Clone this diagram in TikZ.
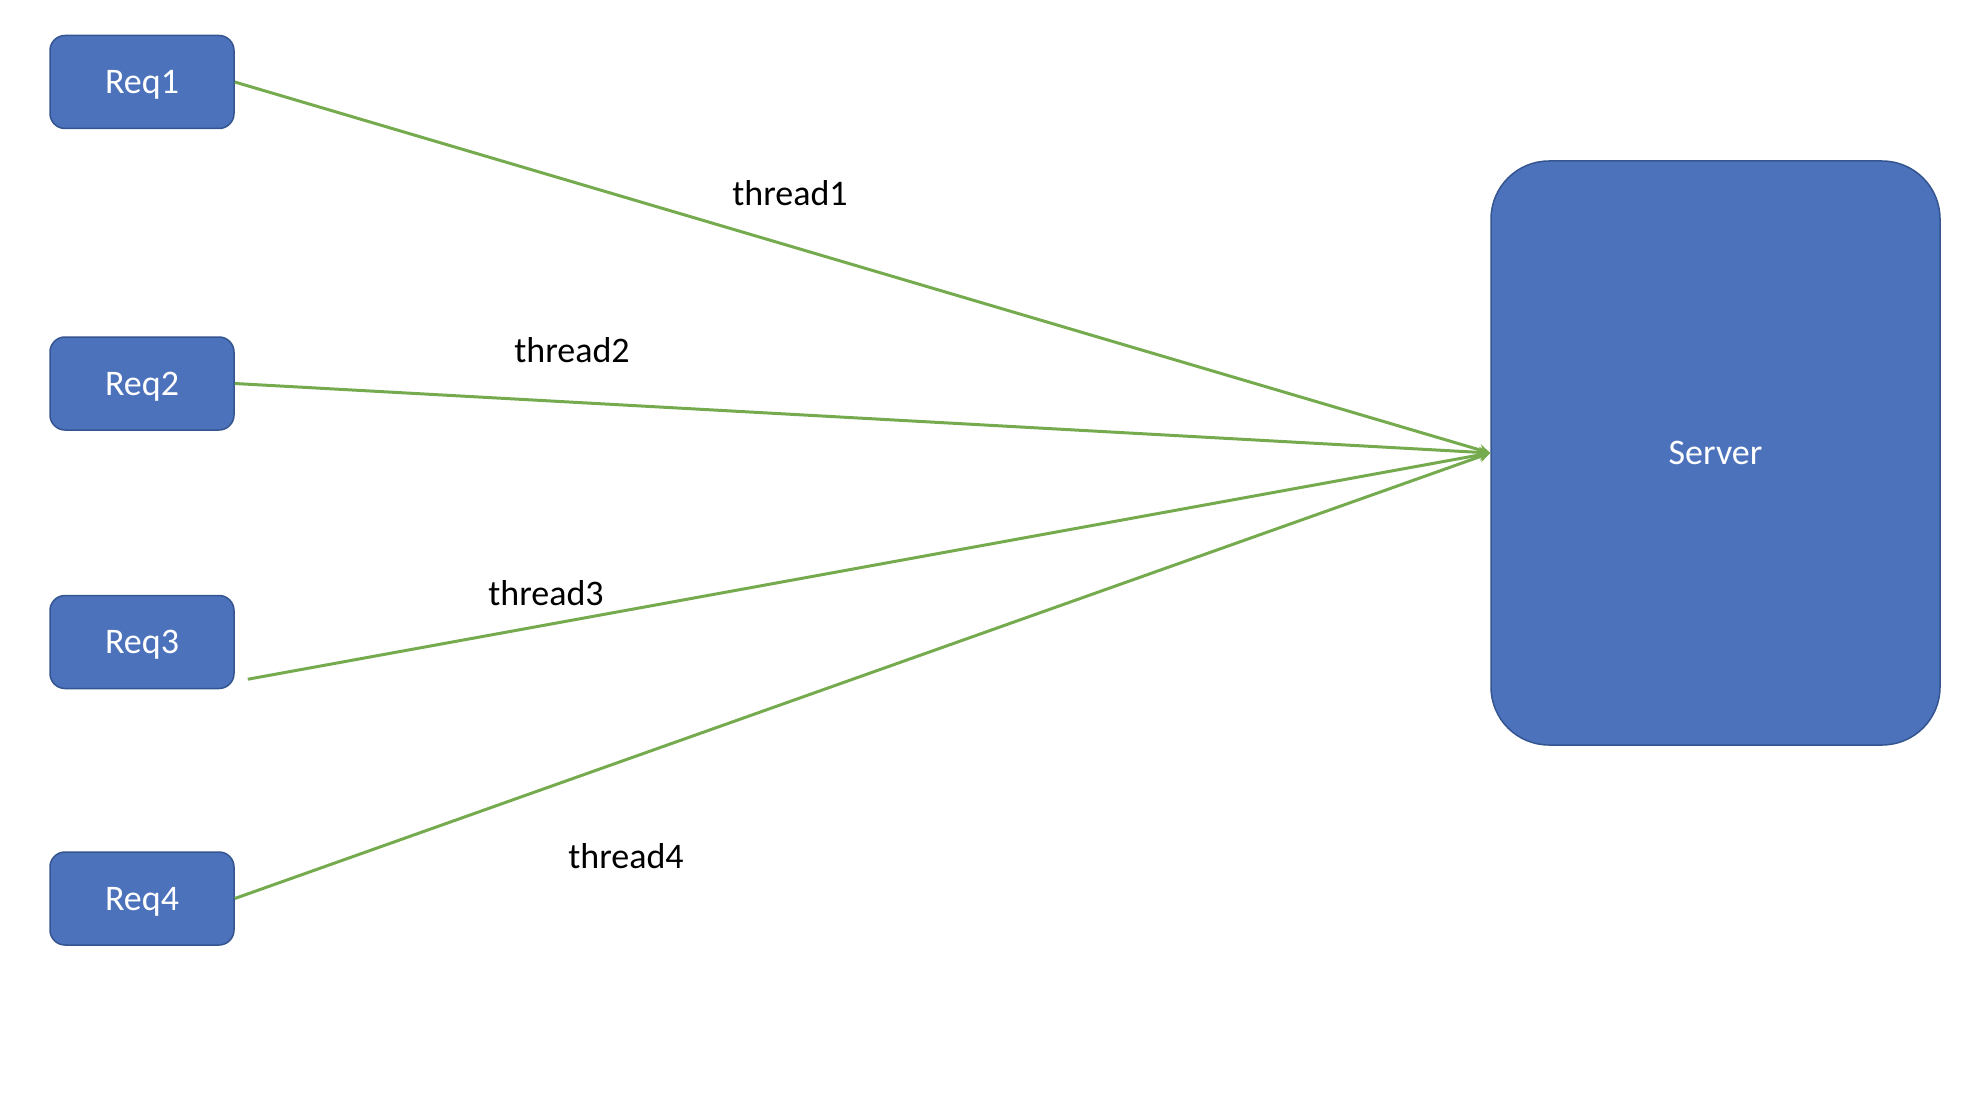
\documentclass[tikz,border=0pt]{standalone}
\usepackage{fontspec}
\setmainfont{Carlito}
\usetikzlibrary{arrows}

\begin{document}
\begin{tikzpicture}[x=0.5pt, y=-0.5pt, every node/.style={font=\fontsize{18}{22}\selectfont}]
% Styles
\tikzstyle{request} = [rectangle, rounded corners=7.5pt, minimum width=92pt, minimum height=46.5pt, text centered, text depth=0pt, draw=serverborder, line width=0.75pt, fill=serverblue, text=white, inner sep=0pt]
\tikzstyle{server} = [rectangle, rounded corners=29pt, minimum width=224.5pt, minimum height=292pt, text centered, draw=serverborder, line width=0.75pt, fill=serverblue, text=white, inner sep=0pt]
\tikzstyle{label} = [text=black, inner sep=0pt]
\tikzstyle{arrow} = [draw=threadgreen, line width=1.5pt, ->, >=stealth]
\definecolor{serverblue}{HTML}{4C72BC}
\definecolor{serverborder}{HTML}{34558F}
\definecolor{threadgreen}{HTML}{75AB4E}

\useasboundingbox (0,0) rectangle (1974,1118);

% Nodes
\node (req1) [request] at (142,82) {Req1};
\node (req2) [request] at (142,383.5) {Req2};
\node (req3) [request] at (142,642) {Req3};
\node (req4) [request] at (142,898.5) {Req4};
\node (server) [server] at (1715.5,453) {Server};

\node (thread1) [label] at (790,193) {thread1};
\node (thread2) [label] at (572,350) {thread2};
\node (thread3) [label] at (546,593) {thread3};
\node (thread4) [label] at (626,856) {thread4};

% Arrows
\coordinate (req3_out) at ([shift={(13,-10)}]req3.south east);
\draw [arrow] (req1.east) -- (server.west);
\draw [arrow] (req2.east) -- (server.west);
\draw [arrow] (req3_out) -- (server.west);
\draw [arrow] (req4.east) -- (server.west);
\end{tikzpicture}
\end{document}
